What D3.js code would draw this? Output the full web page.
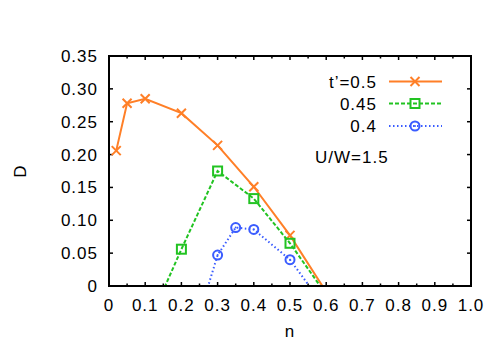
<!DOCTYPE html>
<html lang="en">
<head>
<meta charset="UTF-8">
<title>D vs n</title>
<script src="https://d3js.org/d3.v7.min.js"></script>
<style>
  body { margin: 0; background: #fff; }
  text { font-family: "Liberation Sans", Arial, sans-serif; font-size: 17px; letter-spacing: 1px; fill: #000; }
</style>
</head>
<body>
<svg id="svg" width="491" height="343"></svg>
<script>
  // values
  const nOrange = [0.02, 0.05, 0.1, 0.2, 0.3, 0.4, 0.5, 0.6];
  const dOrange = [0.206, 0.278, 0.285, 0.263, 0.214, 0.151, 0.077, -0.009];
  const nGreen = [0.1, 0.2, 0.3, 0.4, 0.5, 0.6];
  const dGreen = [-0.069, 0.056, 0.175, 0.133, 0.065, -0.013];
  const nBlue = [0.25, 0.3, 0.35, 0.4, 0.5, 0.6];
  const dBlue = [-0.043, 0.047, 0.089, 0.086, 0.040, -0.035];
  const legendLabels = ["t\u2019=0.5", "0.45", "0.4"];
  const xTicks = [0, 0.1, 0.2, 0.3, 0.4, 0.5, 0.6, 0.7, 0.8, 0.9, 1.0];
  const yTicks = [0, 0.05, 0.10, 0.15, 0.20, 0.25, 0.30, 0.35];

  const W = 491, H = 343;
  const m = { left: 109, right: 20, top: 56, bottom: 57 };
  const svg = d3.select("#svg");
  const x = d3.scaleLinear().domain([0, 1]).range([m.left, W - m.right]);
  const y = d3.scaleLinear().domain([0, 0.35]).range([H - m.bottom, m.top]);

  svg.append("clipPath").attr("id", "clip").append("rect")
    .attr("x", m.left).attr("y", m.top)
    .attr("width", W - m.left - m.right).attr("height", H - m.top - m.bottom);

  // ticks, inward and mirrored
  const tk = svg.append("g").attr("stroke", "#000").attr("stroke-width", 1.5);
  d3.range(0, 1.0001, 0.05).forEach((v, i) => {
    const len = i % 2 === 0 ? 4 : 2.5;
    tk.append("line").attr("x1", x(v)).attr("x2", x(v)).attr("y1", y(0)).attr("y2", y(0) - len);
    tk.append("line").attr("x1", x(v)).attr("x2", x(v)).attr("y1", y(0.35)).attr("y2", y(0.35) + len);
  });
  yTicks.forEach(v => {
    tk.append("line").attr("x1", x(0)).attr("x2", x(0) + 4).attr("y1", y(v)).attr("y2", y(v));
    tk.append("line").attr("x1", x(1)).attr("x2", x(1) - 4).attr("y1", y(v)).attr("y2", y(v));
  });

  // tick labels
  svg.append("g").selectAll("text").data(xTicks).join("text")
    .attr("x", v => x(v)).attr("y", y(0) + 25).attr("text-anchor", "middle")
    .text(v => v === 0 ? "0" : v.toFixed(1));
  svg.append("g").selectAll("text").data(yTicks).join("text")
    .attr("x", x(0) - 11).attr("y", v => y(v) + 6).attr("text-anchor", "end")
    .text(v => v === 0 ? "0" : v.toFixed(2));

  svg.append("text").attr("x", x(0.5)).attr("y", H - 6).attr("text-anchor", "middle").text("n");
  svg.append("text").attr("transform", `translate(26,${y(0.175)}) rotate(-90)`)
    .attr("text-anchor", "middle").text("D");

  const series = [
    { n: nOrange, d: dOrange, color: "#ff7f27", dash: null, marker: "cross" },
    { n: nGreen, d: dGreen, color: "#22c322", dash: "4,2", marker: "square" },
    { n: nBlue, d: dBlue, color: "#3a5cff", dash: "1.5,2.5", marker: "circle" }
  ];

  const line = d3.line().x(p => x(p[0])).y(p => y(p[1]));

  function drawMarker(g, type, px, py, color) {
    if (type === "cross") {
      g.append("path").attr("d", `M${px - 4.5},${py - 4.5}L${px + 4.5},${py + 4.5}M${px - 4.5},${py + 4.5}L${px + 4.5},${py - 4.5}`)
        .attr("stroke", color).attr("stroke-width", 2).attr("fill", "none");
    } else if (type === "square") {
      g.append("rect").attr("x", px - 4.5).attr("y", py - 4.5).attr("width", 9).attr("height", 9)
        .attr("stroke", color).attr("stroke-width", 2).attr("fill", "none");
    } else {
      g.append("circle").attr("cx", px).attr("cy", py).attr("r", 4.5)
        .attr("stroke", color).attr("stroke-width", 2).attr("fill", "none");
      g.append("circle").attr("cx", px).attr("cy", py).attr("r", 1).attr("fill", color);
    }
  }

  const plot = svg.append("g").attr("clip-path", "url(#clip)");
  series.forEach(s => {
    const pts = s.n.map((v, i) => [v, s.d[i]]);
    plot.append("path").attr("d", line(pts)).attr("fill", "none")
      .attr("stroke", s.color).attr("stroke-width", 2).attr("stroke-dasharray", s.dash);
    pts.forEach(p => drawMarker(plot, s.marker, x(p[0]), y(p[1]), s.color));
  });

  // legend
  const legY = [81.5, 103.5, 126];
  series.forEach((s, i) => {
    svg.append("text").attr("x", 377).attr("y", legY[i] + 6).attr("text-anchor", "end").text(legendLabels[i]);
    svg.append("line").attr("x1", 389).attr("x2", 442).attr("y1", legY[i]).attr("y2", legY[i])
      .attr("stroke", s.color).attr("stroke-width", 2).attr("stroke-dasharray", s.dash);
    drawMarker(svg, s.marker, 415, legY[i], s.color);
  });
  svg.append("text").attr("x", 315).attr("y", 163).text("U/W=1.5");

  // border
  svg.append("rect").attr("x", m.left).attr("y", m.top)
    .attr("width", W - m.left - m.right).attr("height", H - m.top - m.bottom)
    .attr("fill", "none").attr("stroke", "#000").attr("stroke-width", 2);
</script>
</body>
</html>
